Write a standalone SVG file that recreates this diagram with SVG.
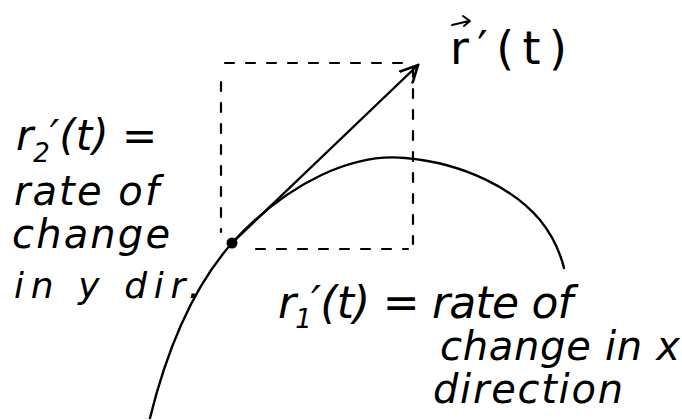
<svg xmlns="http://www.w3.org/2000/svg" width="682" height="420" viewBox="0 0 682 420">
<style>
.ink{fill:none;stroke:#000;stroke-linecap:round;stroke-linejoin:round}
.dash{fill:none;stroke:#000;stroke-width:2.2;stroke-dasharray:9 12;stroke-linecap:round}
.hand{font-family:"DejaVu Sans","Liberation Sans",sans-serif;font-style:italic;fill:#000}
.upright{font-style:normal}
</style>
<defs>
<marker id="head" viewBox="0 0 20 20" refX="18" refY="10" markerWidth="20" markerHeight="20" markerUnits="userSpaceOnUse" orient="auto">
<path d="M0,2 L18,10 L2,19" fill="none" stroke="#000" stroke-width="2.6" stroke-linecap="round"/>
</marker>
</defs>
<rect width="682" height="420" fill="#fff"/>
<g id="curve">
<path class="ink" stroke-width="2.4" d="M150,418 C168,345 195,285 232,243 C290,180 355,153 405,158 C465,163 515,190 540,220 C553,236 560,252 564,268"/>
</g>
<g id="components-box">
<path class="dash" d="M225,63 H412"/>
<path class="dash" d="M221,82 V232"/>
<path class="dash" d="M256,249 H408"/>
<path class="dash" d="M413,68 V244"/>
</g>
<g id="connectors">
<path class="ink" stroke-width="2.4" d="M232,243 L418,65" marker-end="url(#head)"/>
</g>
<g id="point">
<circle cx="232" cy="243" r="5.5" fill="#000"/>
</g>
<g id="label-r-prime">
<path class="ink" stroke-width="2" d="M452,25 L469,21 M463,16 L470,21 L464,26"/>
<text class="hand upright" x="450" y="64" font-size="46" textLength="117">r′(t)</text>
</g>
<g id="label-r2">
<text class="hand" x="16" y="150" font-size="42">r<tspan font-size="26" dy="12">2</tspan><tspan dy="-12">′(t) =</tspan></text>
<text class="hand" x="14" y="205" font-size="40" textLength="145">rate of</text>
<text class="hand" x="12" y="248" font-size="40" textLength="158">change</text>
<text class="hand" x="14" y="298" font-size="36" textLength="186">in y dir.</text>
</g>
<g id="label-r1">
<text class="hand" x="278" y="318" font-size="44" textLength="295">r<tspan font-size="26" dy="10">1</tspan><tspan dy="-10">′(t) = rate of</tspan></text>
<text class="hand" x="440" y="360" font-size="40" textLength="240">change in x</text>
<text class="hand" x="433" y="403" font-size="40" textLength="190">direction</text>
</g>
</svg>
